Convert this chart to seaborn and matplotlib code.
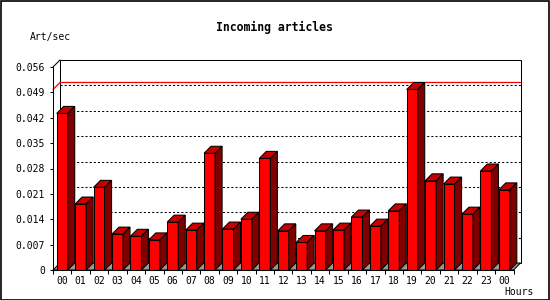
import matplotlib
matplotlib.use("Agg")
import matplotlib.pyplot as plt
from matplotlib.patches import Polygon, Rectangle
import seaborn as sns
import pandas as pd

# ---- data ----
hours = ["00", "01", "02", "03", "04", "05", "06", "07", "08", "09", "10", "11",
         "12", "13", "14", "15", "16", "17", "18", "19", "20", "21", "22", "23", "00"]
rates = [0.0432, 0.0182, 0.0228, 0.0099, 0.0093, 0.0083, 0.0132, 0.0110, 0.0322,
         0.0113, 0.0140, 0.0308, 0.0108, 0.0076, 0.0108, 0.0110, 0.0146, 0.0121,
         0.0163, 0.0498, 0.0246, 0.0237, 0.0154, 0.0273, 0.0221]
ytick_vals = [0, 0.007, 0.014, 0.021, 0.028, 0.035, 0.042, 0.049, 0.056]
ytick_labels = ["0", "0.007", "0.014", "0.021", "0.028", "0.035", "0.042", "0.049", "0.056"]
title = "Incoming articles"
ylabel = "Art/sec"
xlabel = "Hours"

sns.set_style("white")
plt.rcParams["font.family"] = ["DejaVu Sans Mono", "DejaVu Sans"]
plt.rcParams["text.color"] = "black"
plt.rcParams["xtick.color"] = "black"
plt.rcParams["ytick.color"] = "black"
plt.rcParams["xtick.labelcolor"] = "black"
plt.rcParams["ytick.labelcolor"] = "black"

W, H = 550, 300
fig = plt.figure(figsize=(W / 100, H / 100), dpi=100)
fig.patch.set_facecolor("white")

ax = fig.add_axes([53 / W, 30 / H, 460.5 / W, 203 / H])
ax.set_facecolor("none")

df = pd.DataFrame({"slot": list(range(len(rates))), "rate": rates})
sns.barplot(data=df, x="slot", y="rate", color="#ff0000", saturation=1,
            width=0.6, edgecolor="black", linewidth=0.75, ax=ax, zorder=5)

n = len(rates)
ax.set_xlim(-0.5, n - 0.5)
ax.set_ylim(0, ytick_vals[-1])

# depth in data units (7 px right, 7 px up)
depth = 7
p0 = ax.transData.transform((0, 0))
px_x = ax.transData.transform((1, 0))[0] - p0[0]
px_y = ax.transData.transform((0, 1))[1] - p0[1]
dx = depth / px_x
dy = depth / px_y
x_lo, x_hi = -0.5, n - 0.5
ytop = ytick_vals[-1]

# back panel
ax.add_patch(Rectangle((x_lo + dx, dy), x_hi - x_lo, ytop, facecolor="white",
                       edgecolor="black", linewidth=0.75, zorder=0.5, clip_on=False))
# floor
ax.add_patch(Polygon([(x_lo, 0), (x_hi, 0), (x_hi + dx, dy), (x_lo + dx, dy)],
                     closed=True, facecolor="#999999", edgecolor="black",
                     linewidth=0.75, zorder=0.8, clip_on=False))
# top-left diagonal
ax.plot([x_lo, x_lo + dx], [ytop, ytop + dy], color="black", lw=0.75,
        zorder=1, clip_on=False)
# dotted grid on back panel
for t in ytick_vals[1:-1]:
    ax.plot([x_lo + dx, x_hi + dx], [t + dy, t + dy], color="black", lw=0.75,
            linestyle=(0, (2, 2)), zorder=1, clip_on=False)
# max line
vmax = max(rates)
ax.plot([x_lo, x_lo + dx, x_hi + dx], [vmax, vmax + dy, vmax + dy], color="#ff0000",
        lw=0.9, zorder=1.5, clip_on=False)

# 3D tops and sides
for bar in list(ax.patches):
    if not isinstance(bar, Rectangle) or bar.get_zorder() != 5:
        continue
    x0 = bar.get_x()
    x1 = x0 + bar.get_width()
    h = bar.get_height()
    ax.add_patch(Polygon([(x0, h), (x1, h), (x1 + dx, h + dy), (x0 + dx, h + dy)],
                         closed=True, facecolor="#c80000", edgecolor="black",
                         linewidth=0.75, zorder=5, clip_on=False))
    ax.add_patch(Polygon([(x1, 0), (x1, h), (x1 + dx, h + dy), (x1 + dx, dy)],
                         closed=True, facecolor="#800000", edgecolor="black",
                         linewidth=0.75, zorder=5, clip_on=False))

# spines and ticks
for s in ["top", "right"]:
    ax.spines[s].set_visible(False)
for s in ["left", "bottom"]:
    ax.spines[s].set_visible(True)
    ax.spines[s].set_color("black")
    ax.spines[s].set_linewidth(0.75)
    ax.spines[s].set_zorder(6)

ax.set_yticks(ytick_vals)
ax.set_yticklabels(ytick_labels)
ax.set_xticks(range(n))
ax.set_xticklabels(hours)
ax.set_xticks([i - 0.5 for i in range(n + 1)], minor=True)
ax.tick_params(axis="y", which="major", direction="out", length=2.2, width=0.75,
               color="black", labelcolor="black", labelsize=7, pad=3.5, left=True)
ax.tick_params(axis="x", which="major", length=0, labelsize=7, pad=4,
               labelcolor="black")
ax.tick_params(axis="x", which="minor", direction="out", length=3, width=0.75,
               color="black", bottom=True)
ax.set_xlabel("")
ax.set_ylabel("")

fig.text(274 / W, 1 - 27 / H, title, ha="center", va="center", fontsize=8.3,
         fontweight="bold", color="black")
fig.text(30 / W, 1 - 37 / H, ylabel, ha="left", va="center", fontsize=7,
         color="black")
fig.text(504 / W, 1 - 292 / H, xlabel, ha="left", va="center", fontsize=7,
         color="black")

# outer frame
fig.add_artist(Rectangle((0.5 / W, 0.5 / H), (W - 1.5) / W, (H - 1.5) / H,
                         transform=fig.transFigure, facecolor="none",
                         edgecolor="black", linewidth=1.2))

fig.savefig("out.png", dpi=100)
